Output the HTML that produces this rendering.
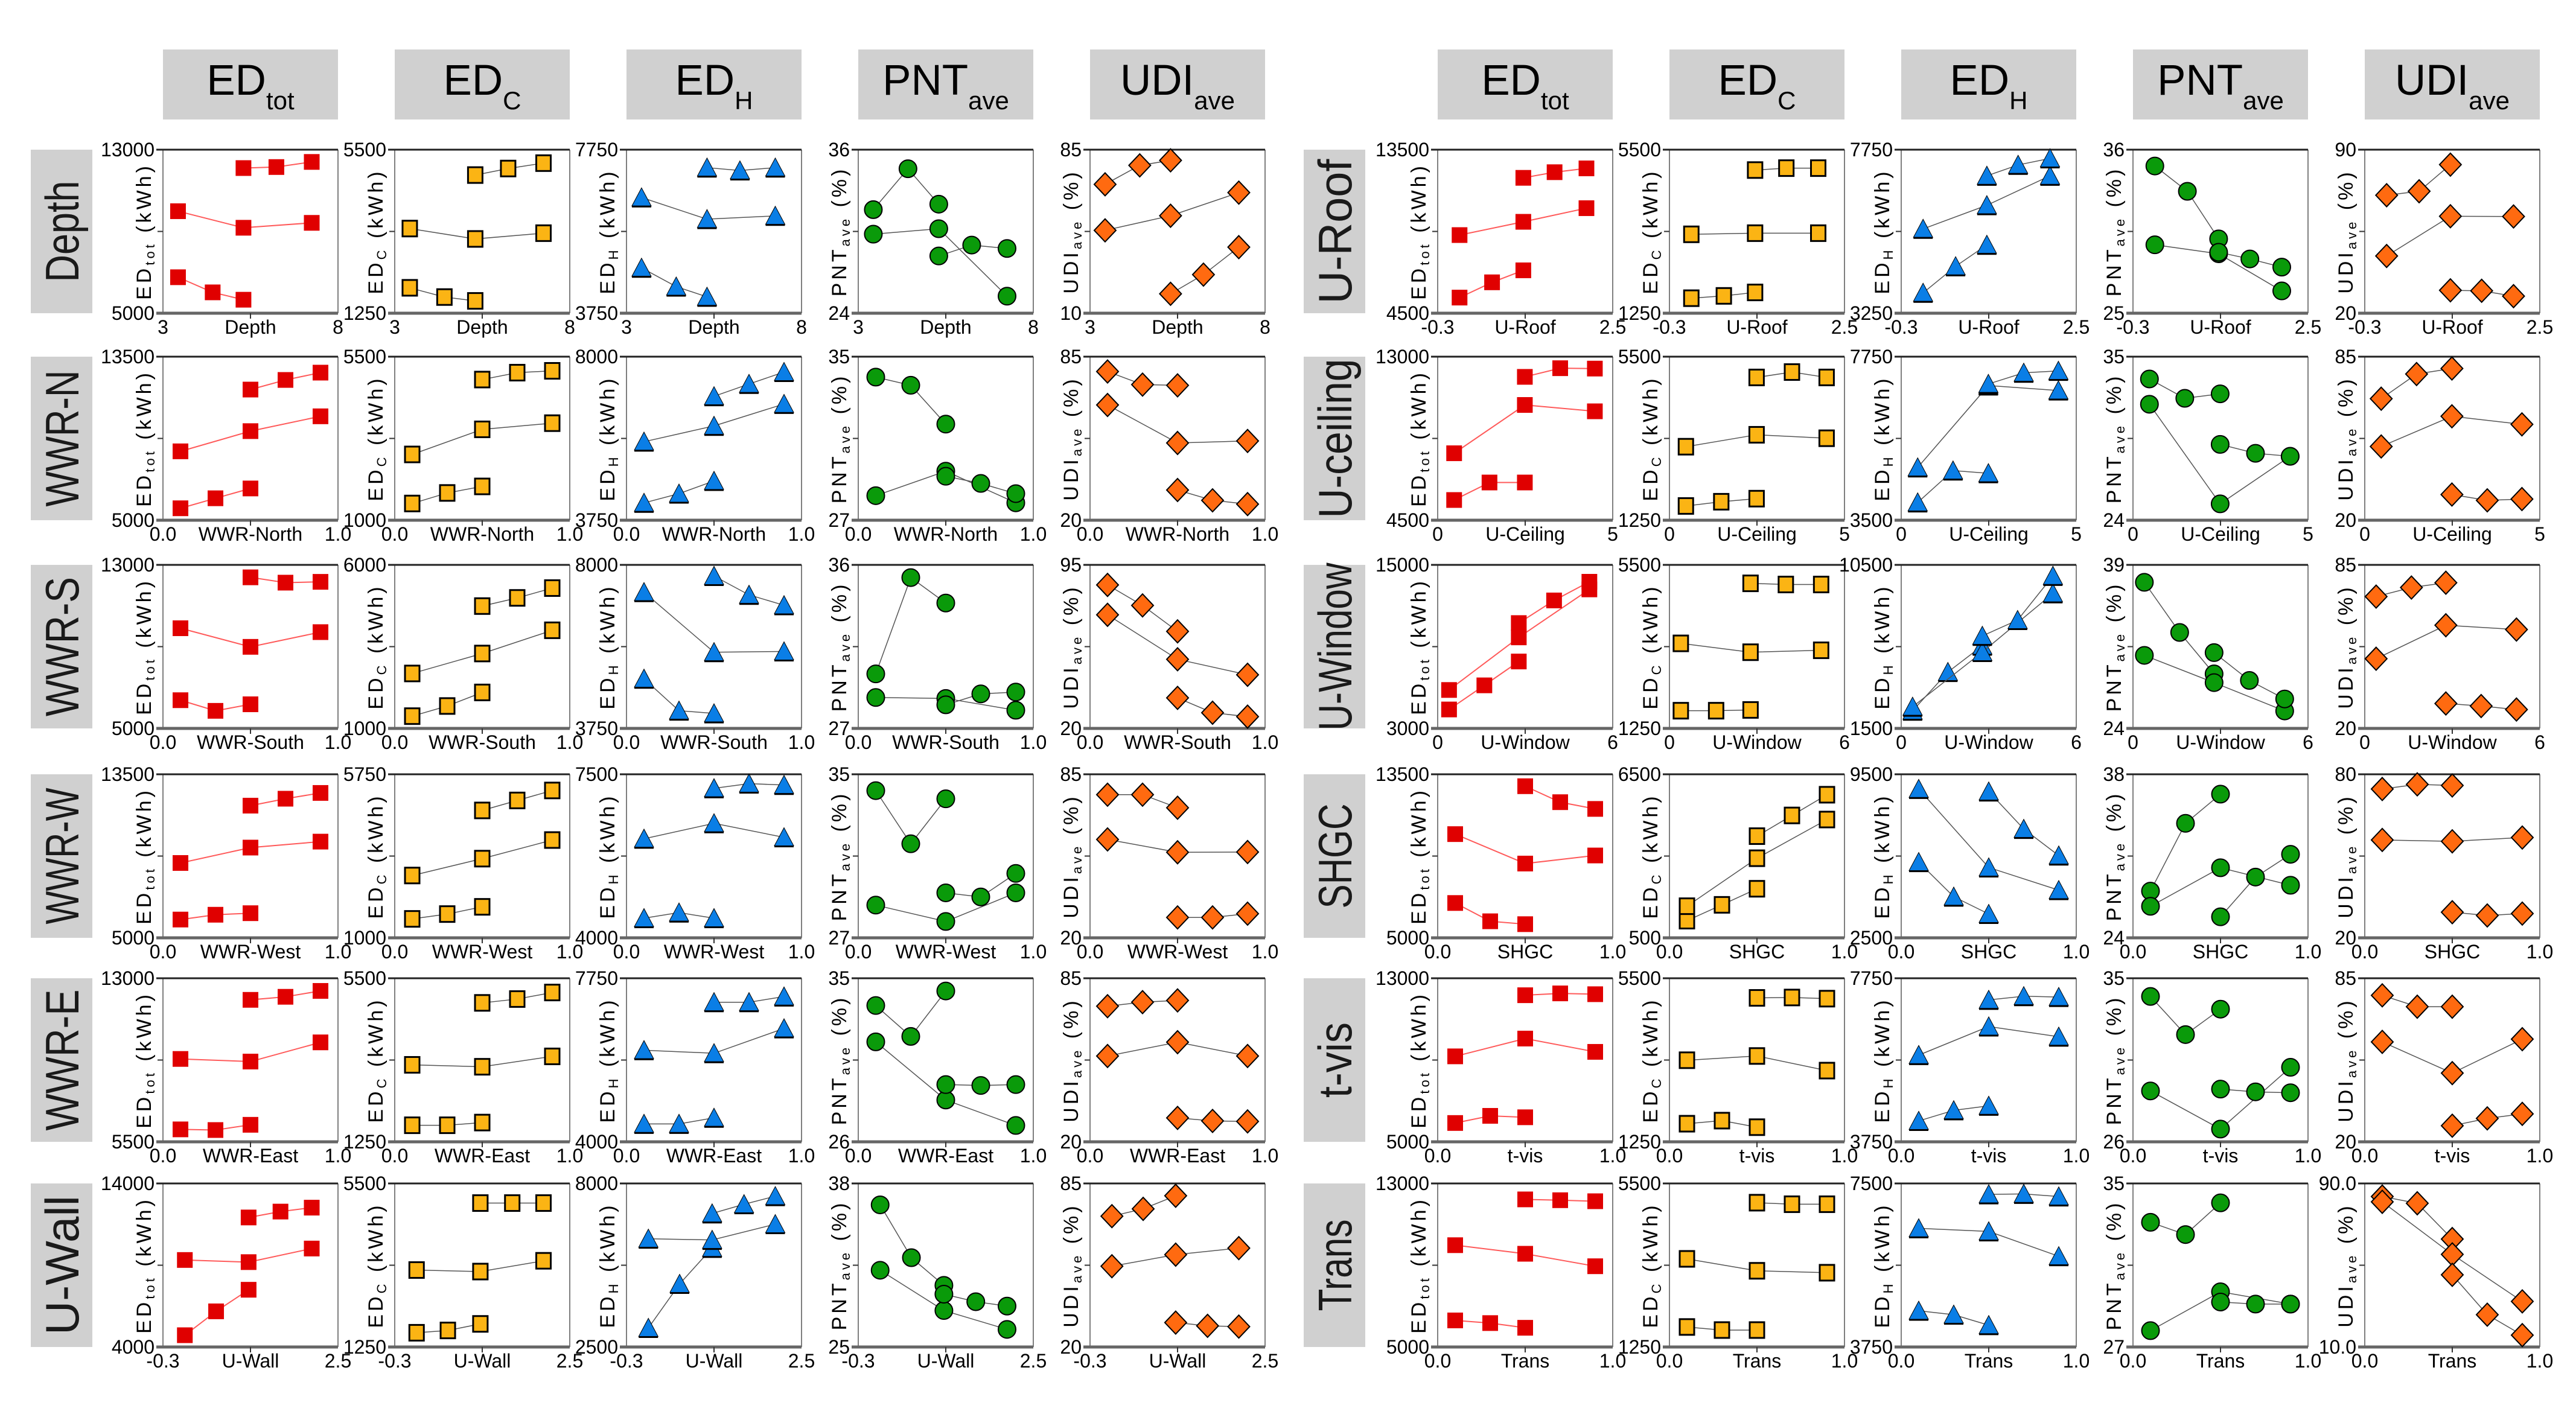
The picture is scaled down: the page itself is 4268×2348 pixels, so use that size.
<!DOCTYPE html>
<html><head><meta charset="utf-8"><title>Sensitivity panels</title>
<style>
html,body{margin:0;padding:0;background:#fff;}
svg{display:block;font-family:"Liberation Sans",Arial,sans-serif;}
</style></head>
<body>
<svg id="chart" xmlns="http://www.w3.org/2000/svg" width="4268" height="2348" viewBox="0 0 4268 2348"></svg>
<script>
// ---------- data ----------
const rowLabels = ["Depth","WWR-N","WWR-S","WWR-W","WWR-E","U-Wall","U-Roof","U-ceiling","U-Window","SHGC","t-vis","Trans"];
const rowLabelLen = [168,226,231,226,234,231,240,264,278,174,125,152];
const xTitles = ["Depth","WWR-North","WWR-South","WWR-West","WWR-East","U-Wall","U-Roof","U-Ceiling","U-Window","SHGC","t-vis","Trans"];
const xDomains = [[3,8],[0,1],[0,1],[0,1],[0,1],[-0.3,2.5],[-0.3,2.5],[0,5],[0,6],[0,1],[0,1],[0,1]];
const xTickLabels = [["3","8"],["0.0","1.0"],["0.0","1.0"],["0.0","1.0"],["0.0","1.0"],["-0.3","2.5"],["-0.3","2.5"],["0","5"],["0","6"],["0.0","1.0"],["0.0","1.0"],["0.0","1.0"]];
const xLevels = [[3.43,4.42,5.3,6.24,7.25],[.1,.3,.5,.7,.9],[.1,.3,.5,.7,.9],[.1,.3,.5,.7,.9],[.1,.3,.5,.7,.9],[.05,.55,1.07,1.58,2.08],
                 [.05,.57,1.07,1.57,2.08],[.47,1.48,2.49,3.5,4.49],[.39,1.6,2.78,3.99,5.2],[.1,.3,.5,.7,.9],[.1,.3,.5,.7,.9],[.1,.3,.5,.7,.9]];
const seriesIdx = [[0,1,2],[0,2,4],[2,3,4]];

const yDomTot = [[5000,13000],[5000,13500],[5000,13000],[5000,13500],[5500,13000],[4000,14000],[4500,13500],[4500,13000],[3000,15000],[5000,13500],[5000,13000],[5000,13000]];
const yDomC   = [[1250,5500],[1000,5500],[1000,6000],[1000,5750],[1250,5500],[1250,5500],[1250,5500],[1250,5500],[1250,5500],[500,6500],[1250,5500],[1250,5500]];
const yDomH   = [[3750,7750],[3750,8000],[3750,8000],[4000,7500],[4000,7750],[2500,8000],[3250,7750],[3500,7750],[1500,10500],[2500,9500],[3750,7750],[3750,7500]];
const yDomPNT = [[24,36],[27,35],[27,36],[27,35],[26,35],[25,38],[25,36],[24,35],[24,39],[24,38],[26,35],[27,35]];
const yDomUDI = [[10,85],[20,85],[20,95],[20,85],[20,85],[20,85],[20,90],[20,85],[20,85],[20,80],[20,85],[10,90]];
const udiLabelDecimals = [0,0,0,0,0,0,0,0,0,0,0,1];

const edTot = [
 [[6760,6020,5660],[9990,9180,9420],[12100,12150,12400]],
 [[5620,6140,6650],[8580,9630,10400],[11790,12290,12670]],
 [[6380,5860,6180],[9900,8990,9710],[12390,12130,12170]],
 [[5950,6200,6280],[8890,9690,10000],[11870,12230,12530]],
 [[6070,6040,6280],[9300,9180,10060],[12010,12150,12420]],
 [[4720,6180,7500],[9320,9190,10020],[11920,12280,12520]],
 [[5360,6200,6860],[8800,9530,10280],[11950,12260,12470]],
 [[5550,6460,6460],[7980,10490,10160],[11950,12400,12380]],
 [[4390,6160,7910],[5820,9680,13200],[10730,12390,13760]],
 [[6810,5860,5710],[10390,8860,9280],[12880,12050,11700]],
 [[5920,6270,6200],[9180,10050,9400],[12170,12260,12220]],
 [[6300,6170,5940],[9980,9560,8950],[12220,12180,12130]]];
const edC = [
 [[1910,1670,1570],[3450,3180,3330],[4840,5010,5150]],
 [[1460,1750,1930],[2810,3500,3670],[4870,5060,5110]],
 [[1375,1685,2100],[2680,3290,4000],[4740,4990,5290]],
 [[1550,1690,1900],[2810,3300,3840],[4700,4990,5280]],
 [[1680,1680,1750],[3250,3200,3470],[4860,4960,5130]],
 [[1620,1680,1850],[3250,3210,3490],[4990,4990,4990]],
 [[1640,1700,1790],[3300,3330,3330],[4970,5020,5020]],
 [[1620,1730,1810],[3160,3470,3380],[4960,5100,4960]],
 [[1710,1710,1730],[3460,3230,3280],[5020,4990,4990]],
 [[1130,1710,2300],[1660,3420,4840],[4230,4990,5750]],
 [[1720,1800,1630],[3370,3480,3100],[4990,5000,4970]],
 [[1770,1690,1690],[3540,3230,3180],[5000,4960,4960]]];
const edH = [
 [[4860,4400,4150],[6580,6050,6130],[7310,7240,7310]],
 [[4200,4440,4770],[5790,6200,6770],[6970,7290,7600]],
 [[5040,4210,4140],[7290,5730,5750],[7710,7220,6950]],
 [[4420,4540,4420],[6120,6450,6150],[7200,7300,7270]],
 [[4410,4410,4550],[6100,6030,6600],[7200,7200,7330]],
 [[3140,4620,5830],[6140,6100,6630],[6990,7300,7570]],
 [[3810,4540,5130],[5570,6220,7030],[7030,7330,7510]],
 [[3960,4790,4720],[4870,7000,6870],[7040,7330,7380]],
 [[2470,4600,6050],[2690,5700,8930],[6590,7460,9890]],
 [[5740,4260,3520],[8870,5510,4540],[8760,7160,6020]],
 [[4260,4520,4630],[5870,6570,6320],[7220,7310,7290]],
 [[4580,4490,4250],[6470,6400,5830],[7250,7260,7200]]];
const pnt = [
 [[31.6,34.6,32.0],[29.8,30.2,25.25],[28.2,29,28.75]],
 [[34.0,33.6,31.7],[28.2,29.4,27.85],[29.15,28.8,28.3]],
 [[30,35.3,33.9],[28.7,28.65,28.0],[28.3,28.9,29.0]],
 [[34.2,31.6,33.8],[28.6,27.8,29.2],[29.2,29,30.15]],
 [[33.5,31.8,34.3],[31.5,28.3,26.9],[29.15,29.1,29.15]],
 [[36.3,32.1,29.9],[31.1,27.9,26.4],[29.2,28.6,28.25]],
 [[34.9,33.2,30.0],[29.6,29,26.5],[29.1,28.65,28.1]],
 [[33.5,32.2,32.5],[31.8,25.1,28.3],[29.1,28.5,28.3]],
 [[37.4,32.8,29.0],[30.7,28.2,25.6],[30.95,28.4,26.7]],
 [[28.0,33.8,36.3],[26.7,30,28.5],[25.8,29.2,31.15]],
 [[34,31.9,33.3],[28.8,26.7,30.1],[28.9,28.75,28.7]],
 [[33.1,32.5,34.05],[27.8,29.7,29.1],[29.2,29.1,29.1]]];
const udi = [
 [[69.1,77.8,80.1],[48,54.7,65.3],[18.9,27.7,40.3]],
 [[79.1,73.9,73.6],[65.8,50.7,51.5],[32,27.9,26.4]],
 [[85.8,76.4,64.5],[72.1,51.7,44.6],[34,27.2,25.4]],
 [[76.9,76.9,71.7],[59.1,54,54.1],[28.1,28.1,29.6]],
 [[73.9,75.5,76.2],[54.1,59.6,54.1],[29.5,28.3,28.1]],
 [[72,74.9,80.1],[52.1,56.7,59.3],[29.7,28.4,28.1]],
 [[70.5,72.2,83.6],[44.5,61.5,61.4],[29.8,29.6,27.3]],
 [[68.3,78.1,80.3],[49.3,61.3,58.1],[30.2,27.9,28.4]],
 [[72.4,76,77.9],[47.7,61,59.3],[29.9,28.9,27.5]],
 [[74.6,76.3,75.9],[55.9,55.4,56.8],[29.4,28.2,28.9]],
 [[78.2,73.7,73.7],[59.7,47.3,60.8],[26.4,29.3,31.1]],
 [[83.6,80.3,62.8],[81,55.3,32.3],[45.3,25.8,15.8]]];

const colNames = ["ed-tot","ed-c","ed-h","pnt-ave","udi-ave"];
const headMain = ["ED","ED","ED","PNT","UDI"];
const headSub = ["tot","C","H","ave","ave"];

// ---------- layout ----------
const NS = "http://www.w3.org/2000/svg";
const svg = document.getElementById("chart");
const colXL = [270,654,1038,1422,1806], colXR = [2382,2766,3150,3534,3918];
const rowY = [248,591,936,1283,1621,1961];
const PW = 290, PH = 271;
function mk(tag, attrs, parent){ const e=document.createElementNS(NS,tag); for(const k in attrs) e.setAttribute(k,attrs[k]); (parent||svg).appendChild(e); return e; }

// headers
[colXL, colXR].forEach((cols, h) => {
  cols.forEach((x, c) => {
    const g = mk("g", {});
    
    
    mk("rect", {x:x, y:82, width:PW, height:116, fill:"#d0d0d0"}, g);
    const t = mk("text", {x:x+PW/2, y:157, "text-anchor":"middle", "font-size":71, fill:"#000"}, g);
    const a = mk("tspan", {}, t); a.textContent = headMain[c];
    const b = mk("tspan", {"font-size":42, dy:24}, t); b.textContent = headSub[c];
  });
});

function yTitle(g, x, cy, c){
  const t = mk("text", {transform:`translate(${x},${cy}) rotate(-90)`, "text-anchor":"middle", "font-size":34, fill:"#000", "letter-spacing":"5"}, g);
  const parts = [[ headMain[c], null ], [ headSub[c], 1 ], [ c<3 ? " (kWh)" : " (%)", 2 ]];
  const m = mk("tspan", {}, t); m.textContent = headMain[c];
  const s = mk("tspan", {"font-size":22, dy:6}, t); s.textContent = headSub[c].toLowerCase()==='c'?'C':headSub[c];
  const u = mk("tspan", {dy:-6}, t); u.textContent = c<3 ? " (kWh)" : " (%)";
}

function marker(g, kind, cx, cy){
  let m;
  if (kind===0){ m = mk("rect",{x:cx-13,y:cy-13,width:26,height:26,fill:"#e00000"},g); }
  else if (kind===1){ m = mk("rect",{x:cx-12,y:cy-13,width:24,height:26,fill:"#fbb414",stroke:"#000","stroke-width":3},g); }
  else if (kind===2){
    m = mk("polygon",{points:`${cx},${cy-16} ${cx-16},${cy+14} ${cx+16},${cy+14}`,fill:"#0a7ee6",stroke:"#000","stroke-width":1},g);
    mk("line",{x1:cx-16,y1:cy+15,x2:cx+16,y2:cy+15,stroke:"#000","stroke-width":3},g);
  }
  else if (kind===3){ m = mk("ellipse",{cx:cx,cy:cy,rx:14.5,ry:14.5,fill:"#0a9a0a",stroke:"#000","stroke-width":2},g); }
  else { m = mk("polygon",{points:`${cx},${cy-19} ${cx+18},${cy} ${cx},${cy+19} ${cx-18},${cy}`,fill:"#ff6a10",stroke:"#000","stroke-width":2},g); }
  return m;
}

const datasets = [edTot, edC, edH, pnt, udi];
const domains = [yDomTot, yDomC, yDomH, yDomPNT, yDomUDI];

for (let r=0; r<12; r++){
  const half = r<6 ? 0 : 1, ri = r%6;
  const top = rowY[ri], bot = top+PH;
  // row label
  const lx = half ? 2160 : 51;
  const lg = mk("g", {});
  
  
  mk("rect",{x:lx,y:top,width:102,height:PH,fill:"#d0d0d0"},lg);
  const lt = mk("text",{transform:`translate(${lx+51+28},${top+PH/2}) rotate(-90)`,"text-anchor":"middle","font-size":78,fill:"#1a1a1a",textLength:rowLabelLen[r],lengthAdjust:"spacingAndGlyphs"},lg);
  lt.textContent = rowLabels[r];

  const xd = xDomains[r];
  for (let c=0; c<5; c++){
    const x0 = (half ? colXR : colXL)[c];
    const yd = domains[c][r];
    const sx = v => x0 + (v - xd[0])/(xd[1]-xd[0])*PW;
    const sy = v => bot - (v - yd[0])/(yd[1]-yd[0])*PH;
    const g = mk("g", {});
    
    
    // frame
    mk("line",{x1:x0,y1:top,x2:x0,y2:bot,stroke:"#555","stroke-width":1.5},g);
    mk("line",{x1:x0+PW,y1:top,x2:x0+PW,y2:bot,stroke:"#555","stroke-width":1.5},g);
    mk("line",{x1:x0-11,y1:top,x2:x0+PW,y2:top,stroke:"#222","stroke-width":3},g);
    mk("line",{x1:x0-11,y1:bot,x2:x0+PW,y2:bot,stroke:"#666","stroke-width":5},g);
    mk("line",{x1:x0-9,y1:top+PH/2,x2:x0,y2:top+PH/2,stroke:"#333","stroke-width":2},g);
    mk("line",{x1:x0+PW/2,y1:bot,x2:x0+PW/2,y2:bot+9,stroke:"#333","stroke-width":2},g);
    // y tick labels
    const dec = c===4 ? udiLabelDecimals[r] : 0;
    const yt1 = mk("text",{x:x0-14,y:top+11,"text-anchor":"end","font-size":32,fill:"#000"},g);
    
    
    yt1.textContent = yd[1].toFixed(dec);
    const yt0 = mk("text",{x:x0-14,y:bot+11,"text-anchor":"end","font-size":32,fill:"#000"},g);
    
    
    yt0.textContent = yd[0].toFixed(dec);
    // x labels
    const xa = mk("text",{x:x0,y:bot+34,"text-anchor":"middle","font-size":32,fill:"#000"},g);
    
    
    xa.textContent = xTickLabels[r][0];
    const xb = mk("text",{x:x0+PW,y:bot+34,"text-anchor":"middle","font-size":32,fill:"#000"},g);
    
    
    xb.textContent = xTickLabels[r][1];
    const xt = mk("text",{x:x0+PW/2,y:bot+34,"text-anchor":"middle","font-size":32,fill:"#000"},g);
    
    
    xt.textContent = xTitles[r];
    // y title
    yTitle(g, x0-20, top+PH/2, c);
    // series
    const vals = datasets[c][r];
    for (let s=0; s<3; s++){
      const pts = seriesIdx[s].map((xi,k)=>[sx(xLevels[r][xi]), sy(vals[s][k])]);
      const pl = mk("polyline",{points:pts.map(p=>p.join(",")).join(" "),fill:"none",stroke:c===0?"#ff5a5a":"#555","stroke-width":c===0?2:1.5},g);
      
      
      pts.forEach(p => {
        const m = marker(g, c, p[0], p[1]);
        
        
      });
    }
  }
}
</script>
</body></html>
